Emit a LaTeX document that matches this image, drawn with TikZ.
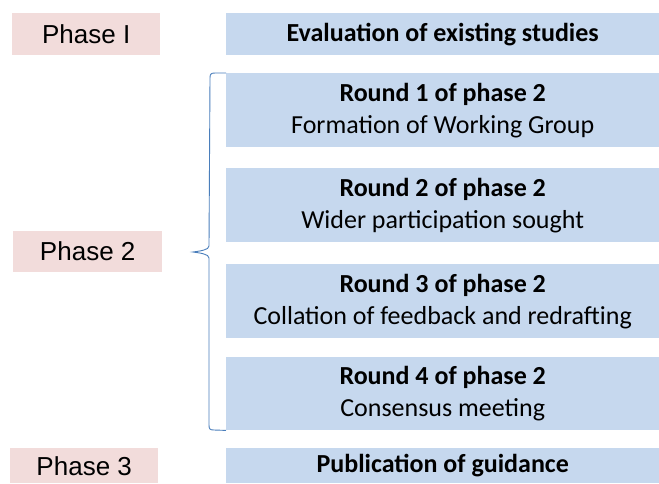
\documentclass[tikz,border=0pt]{standalone}
\usepackage{fontspec}
\setmainfont{Carlito}
\newfontfamily\phasefont{Liberation Sans}
\definecolor{pinkbox}{HTML}{F2DCDB}
\definecolor{bluebox}{HTML}{C6D8EE}
\definecolor{bracecol}{HTML}{4A7EBB}
\begin{document}
\begin{tikzpicture}[x=1pt,y=-1pt,
  phasebox/.style={fill=pinkbox, draw=none, anchor=north west, inner sep=0pt,
    font=\phasefont\fontsize{26}{30}\selectfont},
  stagebox/.style={fill=bluebox, draw=none, anchor=north west, inner sep=0pt,
    minimum width=433pt, align=center, font=\fontsize{26}{32}\selectfont},
  bracestyle/.style={draw=bracecol, line width=0.9pt}]
\useasboundingbox (0,0) rectangle (659,483);
% phase labels
\node[phasebox, minimum width=148pt, minimum height=42pt] (p1) at (12,13) {Phase I};
\node[phasebox, minimum width=149pt, minimum height=41pt] (p2) at (13,231) {Phase 2};
\node[phasebox, minimum width=148pt, minimum height=35pt] (p3) at (10,448) {\raisebox{-2pt}{Phase 3}};
% stage boxes
\node[stagebox, minimum height=42pt] (ev) at (226,13) {\textbf{Evaluation of existing studies}};
\node[stagebox, minimum height=74pt] (r1) at (226,73) {\textbf{Round 1 of phase 2}\\Formation of Working Group};
\node[stagebox, minimum height=74pt] (r2) at (226,168) {\textbf{Round 2 of phase 2}\\Wider participation sought};
\node[stagebox, minimum height=74pt] (r3) at (226,264) {\textbf{Round 3 of phase 2}\\Collation of feedback and redrafting};
\node[stagebox, minimum height=73pt] (r4) at (226,357) {\textbf{Round 4 of phase 2}\\Consensus meeting};
\node[stagebox, minimum height=35pt] (pub) at (226,448) {\raisebox{-2pt}{\textbf{Publication of guidance}}};
% brace
\coordinate (bt) at (r1.north west);
\coordinate (bb) at (r4.south west);
\coordinate (bm) at (193,252);
\draw[bracestyle] (bt) -- ++(-11,0) .. controls ++(-4,0) and ++(0,-4) .. ++(-5,5)
  -- (209,246) .. controls (209,250) and (200,251) .. (bm)
  .. controls (200,253) and (209,254) .. (209,258)
  -- (209,425) .. controls (209,429) and (210,430) .. (214,430) -- (bb);
\end{tikzpicture}
\end{document}
